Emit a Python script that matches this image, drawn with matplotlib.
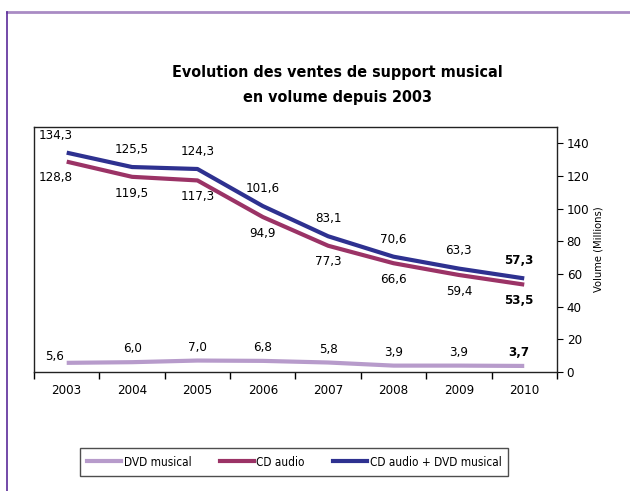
import matplotlib.pyplot as plt
from matplotlib.lines import Line2D

plt.rcParams['font.family'] = ['DejaVu Sans']
plt.rcParams['font.stretch'] = 'condensed'

# data
years = ['2003', '2004', '2005', '2006', '2007', '2008', '2009', '2010']
dvd = [5.6, 6.0, 7.0, 6.8, 5.8, 3.9, 3.9, 3.7]
cd = [128.8, 119.5, 117.3, 94.9, 77.3, 66.6, 59.4, 53.5]
total = [134.3, 125.5, 124.3, 101.6, 83.1, 70.6, 63.3, 57.3]

c_dvd = '#b79bcb'
c_cd = '#9b3366'
c_total = '#2e3190'

fig = plt.figure(figsize=(6.3, 4.91), dpi=100)
ax = fig.add_axes([0.054, 0.2424, 0.83, 0.4989])

x = list(range(len(years)))
ax.plot(x, dvd, color=c_dvd, lw=3, solid_capstyle='butt')
ax.plot(x, cd, color=c_cd, lw=3, solid_capstyle='butt')
ax.plot(x, total, color=c_total, lw=3, solid_capstyle='butt')

ax.set_xlim(-0.5, len(years) - 0.5)
ax.set_ylim(0, 150)
ax.set_yticks(range(0, 141, 20))
ax.yaxis.tick_right()
ax.yaxis.set_label_position('right')
ax.set_ylabel('Volume (Millions)', fontsize=8, labelpad=3)

ax.set_xticks(x)
ax.set_xticklabels(years)
ax.set_xticks([i - 0.5 for i in range(len(years) + 1)], minor=True)
ax.tick_params(axis='x', which='major', length=0, pad=9, labelsize=9.5)
ax.tick_params(axis='x', which='minor', length=5, direction='out', width=1)
ax.tick_params(axis='y', length=4, direction='out', labelsize=9.5, pad=3)
for s in ax.spines.values():
    s.set_linewidth(1)
    s.set_color('#222222')


def fmt(v):
    return ('%.1f' % v).replace('.', ',')


last = len(years) - 1
fs = 9.5
for i in x:
    bold = 'bold' if i == last else 'normal'
    dx = -8 if i == 0 else 0
    if i == last:
        dx = -4
    ax.annotate(fmt(total[i]), (i, total[i]), xytext=(dx, 8), textcoords='offset points',
                ha='center', va='bottom', fontsize=fs, fontweight=bold)
    ax.annotate(fmt(cd[i]), (i, cd[i]), xytext=(dx, -7), textcoords='offset points',
                ha='center', va='top', fontsize=fs, fontweight=bold)
    if i == 0:
        ax.annotate(fmt(dvd[i]), (i, dvd[i]), xytext=(-9, 0), textcoords='offset points',
                    ha='center', va='bottom', fontsize=fs)
    else:
        ax.annotate(fmt(dvd[i]), (i, dvd[i]), xytext=(dx, 5), textcoords='offset points',
                    ha='center', va='bottom', fontsize=fs, fontweight=bold)

fig.text(0.535, 0.853, 'Evolution des ventes de support musical', ha='center', va='center',
         fontsize=11.5, fontweight='bold')
fig.text(0.535, 0.802, 'en volume depuis 2003', ha='center', va='center',
         fontsize=11.5, fontweight='bold')

handles = [Line2D([], [], color=c_dvd, lw=3),
           Line2D([], [], color=c_cd, lw=3),
           Line2D([], [], color=c_total, lw=3)]
leg = fig.legend(handles, ['DVD musical', 'CD audio', 'CD audio + DVD musical'],
                 loc='center', bbox_to_anchor=(0.467, 0.059), ncol=3, fontsize=8.5,
                 frameon=True, fancybox=False, handlelength=2.9, handletextpad=0.2,
                 columnspacing=2.4, borderpad=0.6, borderaxespad=0)
leg.get_frame().set_edgecolor('#222222')
leg.get_frame().set_linewidth(1)

# purple frame around the figure
fig.add_artist(Line2D([0.011, 1], [0.975, 0.975], color='#a98bc4', lw=2, transform=fig.transFigure))
fig.add_artist(Line2D([0.011, 0.011], [0, 0.975], color='#5b2b9a', lw=1.2, transform=fig.transFigure))

fig.savefig('out.png', dpi=100)
